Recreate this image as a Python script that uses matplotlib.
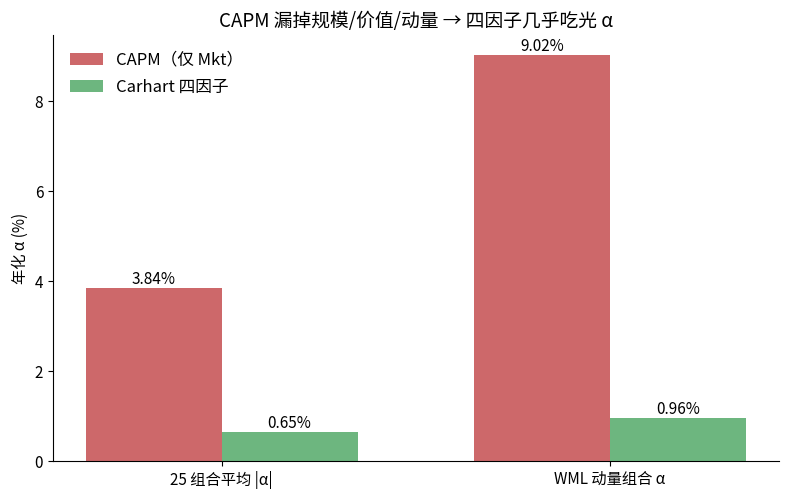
import numpy as np
import matplotlib
matplotlib.use("Agg")
import matplotlib.pyplot as plt

plt.rcParams['font.family'] = ['Noto Sans CJK SC', 'DejaVu Sans']
plt.rcParams['axes.unicode_minus'] = False

groups      = ["25 组合平均 |α|", "WML 动量组合 α"]
capm_alpha  = [3.84, 9.02]
four_alpha  = [0.65, 0.96]
series_lbls = ["CAPM（仅 Mkt）", "Carhart 四因子"]

RED   = "#cd686a"
GREEN = "#6db67f"
WIDTH = 0.35

fig, ax = plt.subplots(figsize=(7.89, 4.99), dpi=100)
x = np.arange(len(groups))

b1 = ax.bar(x - WIDTH / 2, capm_alpha, WIDTH, color=RED, label=series_lbls[0])
b2 = ax.bar(x + WIDTH / 2, four_alpha, WIDTH, color=GREEN, label=series_lbls[1])

for bars in (b1, b2):
    for rect in bars:
        h = rect.get_height()
        ax.text(rect.get_x() + rect.get_width() / 2, h, f"{h:.2f}%",
                ha="center", va="bottom", fontsize=11)

ax.set_xticks(x)
ax.set_xticklabels(groups, fontsize=11)
ax.set_ylabel("年化 α (%)", fontsize=11)
ax.set_title("CAPM 漏掉规模/价值/动量 → 四因子几乎吃光 α", fontsize=13.5)
ax.tick_params(axis="y", labelsize=11)
ax.spines["top"].set_visible(False)
ax.spines["right"].set_visible(False)
ax.legend(loc="upper left", frameon=False, fontsize=12, labelspacing=0.6,
          borderaxespad=0.6)

fig.subplots_adjust(left=0.067, right=0.987, top=0.93, bottom=0.076)
fig.savefig("out.png", dpi=100)
